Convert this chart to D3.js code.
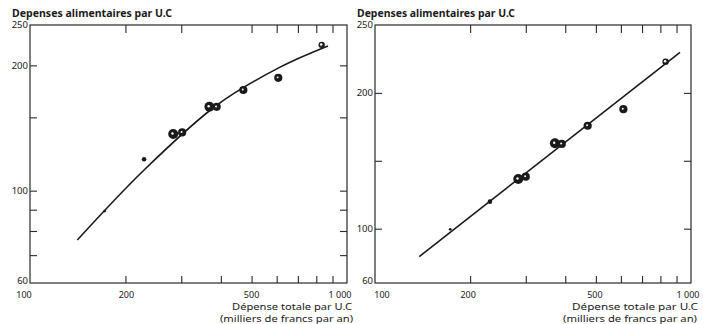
<!DOCTYPE html>
<html><head><meta charset="utf-8">
<script src="https://cdn.jsdelivr.net/npm/d3@7"></script>
<style>
html,body{margin:0;padding:0;background:#fff;}
svg{display:block;}
text{font-family:"Noto Sans","DejaVu Sans",sans-serif;fill:#1a1a1a;}
</style></head><body>
<svg id="chart" width="703" height="324"></svg>
<script>
// ---- data ----
const chartTitle = "Depenses alimentaires par U.C";
const xAxisTitle1 = "Dépense totale par U.C";
const xAxisTitle2 = "(milliers de francs par an)";
const xTickValues = [200, 300, 400, 500, 600, 700, 800, 900];
const xLabelValues = [100, 200, 500, 1000];
const xLabelTexts = ["100", "200", "500", "1 000"];
const yLabelValues = [250, 200, 100, 60];
const yLeftTicks = [200, 150, 100, 90, 80, 70];
const yRightTicks = [200, 150, 100];

// left panel (log–log)
const leftX = [172, 229, 283, 302, 368, 388, 471, 607, 832];
const leftY = [89.3, 119, 136.8, 138, 159, 159, 174.5, 186.7, 224];
const leftWeight = [1, 2, 5, 4, 5, 4, 4, 4, 3];
const leftCurveX = [141, 229, 389, 615, 871];
const leftCurveY = [76.1, 112.1, 160.6, 198, 222.6];

// right panel (log x, linear y)
const rightX = [173, 231, 284, 300, 371, 390, 471, 611, 831];
const rightY = [99.5, 119.9, 136.6, 138.3, 162.9, 162.4, 175.8, 188, 223];
const rightWeight = [1, 2, 5, 4, 5, 4, 4, 4, 3];
const rightLineX = [138, 923];
const rightLineY = [79.4, 229.9];

// ---- drawing ----
const svg = d3.select("#chart");
const ink = "#1a1a1a";
const rScale = d3.scaleLinear().domain([1, 5]).range([1.4, 5]);

function panel(opt) {
  const g = svg.append("g");
  const x = d3.scaleLog().domain([100, 1000]).range([opt.x0, opt.x1]);
  const y = (opt.logY ? d3.scaleLog() : d3.scaleLinear()).domain([60, 250]).range([283, 25]);

  // title
  g.append("text").attr("x", opt.titleX).attr("y", 16.5)
    .attr("font-size", 10).attr("font-weight", "bold")
    .attr("textLength", opt.titleW).attr("lengthAdjust", "spacingAndGlyphs")
    .text(chartTitle);

  // frame
  g.append("rect").attr("x", opt.x0).attr("y", 25)
    .attr("width", opt.x1 - opt.x0).attr("height", 258)
    .attr("fill", "none").attr("stroke", "#2a2a2a").attr("stroke-width", 1.2);

  // inward ticks
  const bottom = d3.axisBottom(x).tickValues(xTickValues).tickSize(-7).tickFormat("");
  const top = d3.axisTop(x).tickValues(xTickValues.filter(v => !(opt.skipTop || []).includes(v))).tickSize(-8).tickFormat("");
  const left = d3.axisLeft(y).tickValues(opt.yTicks).tickSize(-7).tickFormat("");
  const right = d3.axisRight(y).tickValues(opt.yTicks).tickSize(-7).tickFormat("");
  [[bottom, `translate(0,283)`], [top, `translate(0,25)`], [left, `translate(${opt.x0},0)`], [right, `translate(${opt.x1},0)`]]
    .forEach(([ax, tr]) => {
      const a = g.append("g").attr("transform", tr).call(ax);
      a.select(".domain").remove();
      a.selectAll("line").attr("stroke", "#2a2a2a").attr("stroke-width", 1.1);
    });

  // x labels
  g.selectAll(".xl").data(xLabelValues).enter().append("text")
    .attr("x", (d, i) => x(d) + opt.xLabelDx[i]).attr("y", 297.5)
    .attr("text-anchor", "middle").attr("font-size", 9)
    .text((d, i) => xLabelTexts[i]);

  // y labels
  g.selectAll(".yl").data(yLabelValues).enter().append("text")
    .attr("x", opt.x0 - 2).attr("y", (d, i) => y(d) - (i === yLabelValues.length - 1 ? 2 : 0)).attr("dy", "0.35em")
    .attr("text-anchor", "end").attr("font-size", 9.5)
    .text(d => d);

  // axis title
  g.append("text").attr("x", opt.t1x).attr("y", 310).attr("font-size", 9)
    .attr("textLength", opt.t1w).attr("lengthAdjust", "spacingAndGlyphs").text(xAxisTitle1);
  g.append("text").attr("x", opt.t2x).attr("y", 321.5).attr("font-size", 8.5)
    .attr("textLength", opt.t2w).attr("lengthAdjust", "spacingAndGlyphs").text(xAxisTitle2);

  // curve / line
  const pts = opt.curveX.map((v, i) => [x(v), y(opt.curveY[i])]);
  g.append("path").attr("d", d3.line().curve(d3.curveCatmullRom.alpha(0.5))(pts))
    .attr("fill", "none").attr("stroke", ink).attr("stroke-width", 1.6);

  // points
  opt.px.forEach((v, i) => {
    const cx = x(v), cy = y(opt.py[i]), w = opt.pw[i], r = rScale(w);
    g.append("circle").attr("cx", cx).attr("cy", cy).attr("r", r).attr("fill", ink);
    if (w >= 3) {
      g.append("circle").attr("cx", cx - r * 0.15).attr("cy", cy - r * 0.1)
        .attr("r", w === 3 ? r * 0.4 : r * 0.24).attr("fill", "#fff");
    }
  });
}

panel({
  x0: 30, x1: 347, logY: true, yTicks: yLeftTicks, skipTop: [400],
  titleX: 12, titleW: 160,
  xLabelDx: [-6, 1, 0, -7],
  t1x: 232, t1w: 120, t2x: 220, t2w: 133,
  curveX: leftCurveX, curveY: leftCurveY,
  px: leftX, py: leftY, pw: leftWeight
});
panel({
  x0: 375, x1: 691, logY: false, yTicks: yRightTicks,
  titleX: 357, titleW: 158,
  xLabelDx: [7, -2, -1, -3],
  t1x: 572, t1w: 126, t2x: 563, t2w: 134,
  curveX: rightLineX, curveY: rightLineY,
  px: rightX, py: rightY, pw: rightWeight
});
</script>
</body></html>
